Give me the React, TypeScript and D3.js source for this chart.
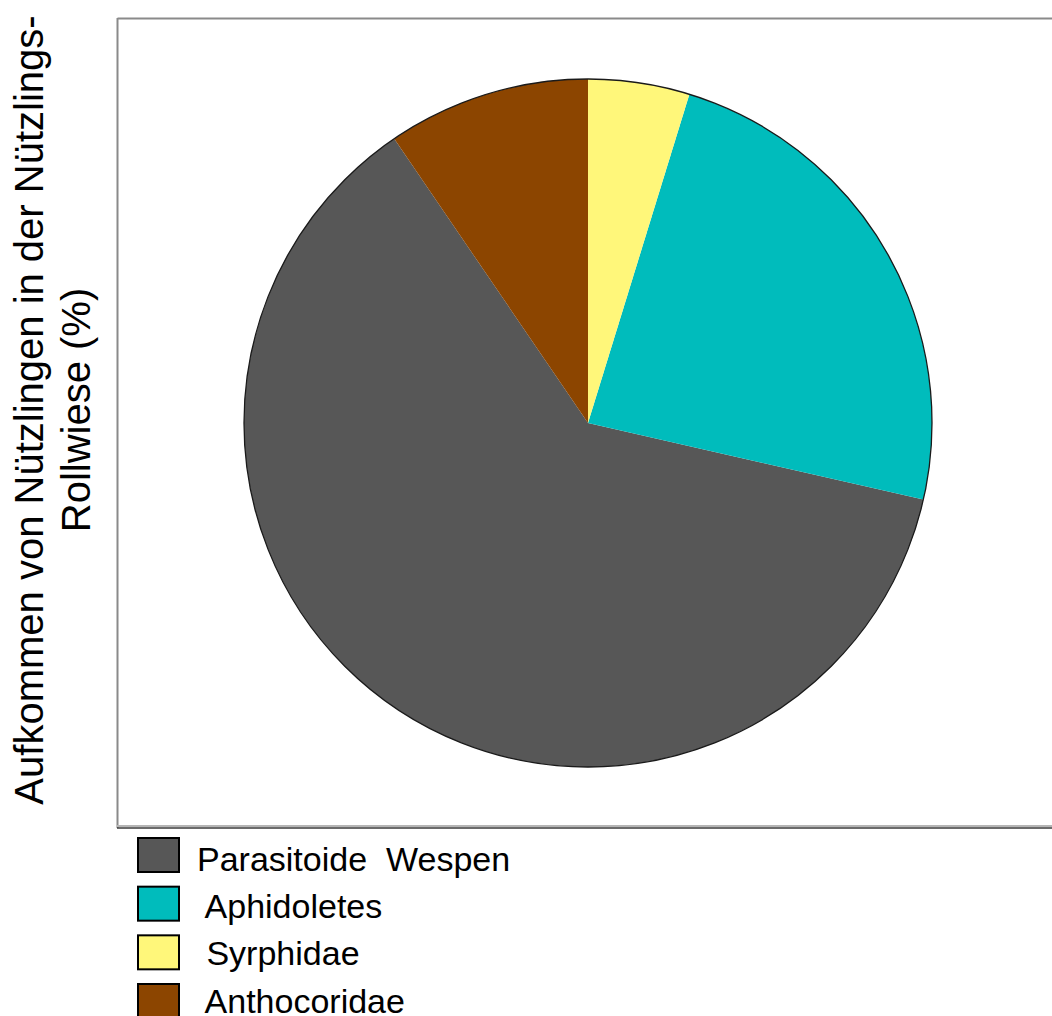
import React from "react";
import * as d3 from "d3";

// Beneficial insects counted in the rolled meadow (counts per group)
const categories = ["Parasitoide  Wespen", "Aphidoletes", "Syrphidae", "Anthocoridae"];
const legendLabels = ["Parasitoide  Wespen", " Aphidoletes", " Syrphidae", " Anthocoridae"];
const counts = [13, 5, 1, 2];
const colors = ["#575757", "#00BCBC", "#FFF77A", "#8C4500"];
// clockwise from 12 o'clock
const sliceOrder = ["Syrphidae", "Aphidoletes", "Parasitoide  Wespen", "Anthocoridae"];

const yLabelLines = ["Aufkommen von Nützlingen in der Nützlings-", "Rollwiese (%)"];

const W = 1052;
const H = 1016;
const font = "'Liberation Sans', Arial, sans-serif";

export default function App() {
  const data = categories.map((c, i) => ({ name: c, value: counts[i], color: colors[i] }));
  const pie = d3
    .pie<{ name: string; value: number; color: string }>()
    .value((d) => d.value)
    .sort((a, b) => sliceOrder.indexOf(a.name) - sliceOrder.indexOf(b.name));
  const arcs = pie(data);
  const cx = 588;
  const cy = 423;
  const r = 344;
  const arcGen = d3.arc<d3.PieArcDatum<any>>().innerRadius(0).outerRadius(r);

  // legend rows: swatch tops and label baselines
  const swatchY = d3.scaleLinear().domain([0, 3]).range([838, 984]);
  const labelY = d3.scaleLinear().domain([0, 3]).range([871, 1012.5]);

  return (
    <svg
      width={W}
      height={H}
      style={{ position: "absolute", left: 0, top: 0, background: "#fff" }}
      fontFamily={font}
    >
      {/* plot frame */}
      <line x1={117.5} y1={18.5} x2={W} y2={18.5} stroke="#8a8a8a" strokeWidth={2} />
      <line x1={117.5} y1={18} x2={117.5} y2={828} stroke="#8a8a8a" strokeWidth={2} />
      <line x1={117} y1={826} x2={W} y2={826} stroke="#b5b5b5" strokeWidth={2} />
      <line x1={117} y1={828} x2={W} y2={828} stroke="#3a3a3a" strokeWidth={1.5} />

      {/* pie */}
      <g transform={`translate(${cx},${cy})`}>
        {arcs.map((a) => (
          <path key={a.data.name} d={arcGen(a) || ""} fill={a.data.color} />
        ))}
        <circle r={r} fill="none" stroke="#1a1a1a" strokeWidth={1.3} />
      </g>

      {/* y axis title */}
      <g transform="rotate(-90)" fontSize={40} fill="#000" textAnchor="middle">
        {yLabelLines.map((t, i) => (
          <text key={i} x={-410} y={43 + i * 47}>
            {t}
          </text>
        ))}
      </g>

      {/* legend */}
      <g fontSize={34} fill="#000">
        {data.map((d, i) => (
          <g key={d.name}>
            <rect x={138} y={swatchY(i)} width={41} height={34} fill={d.color} stroke="#000" strokeWidth={2} />
            <text x={197} y={labelY(i)} style={{ whiteSpace: "pre" }}>
              {legendLabels[i]}
            </text>
          </g>
        ))}
      </g>
    </svg>
  );
}
